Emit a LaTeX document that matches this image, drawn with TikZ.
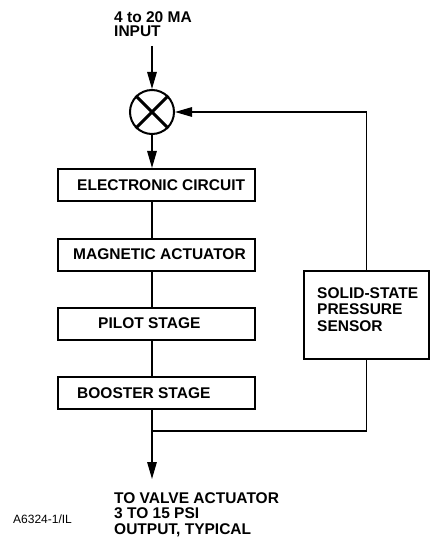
\documentclass[tikz,border=0pt]{standalone}
\usepackage{fontspec}
\setmainfont{Liberation Sans}
\usetikzlibrary{arrows.meta}
\begin{document}
\begin{tikzpicture}[x=1pt,y=-1pt,
  stagebox/.style={draw, line width=2pt, minimum width=197pt, minimum height=32pt, inner sep=0pt},
  lbl/.style={font=\bfseries\fontsize{15.5}{15.5}\selectfont, inner sep=0pt, anchor=west},
  mlbl/.style={inner sep=0pt, anchor=north west, align=left},
  conn/.style={line width=1.5pt},
  arr/.style={conn, -{Triangle[length=17pt,width=9.5pt]}},
]
\useasboundingbox (0,0) rectangle (430,537);
% summing junction
\node[circle, draw, line width=2pt, minimum size=44pt, inner sep=0pt] (sum) at (152,112) {};
\draw[line width=3pt] (sum.north east) -- (sum.south west) (sum.north west) -- (sum.south east);
% stages
\node[stagebox] (ec) at (156.5,185) {};
\node[lbl] (ect) at (77,185) {ELECTRONIC CIRCUIT};
\node[stagebox] (ma) at (156.5,254.5) {};
\node[lbl] (mat) at (73,254.5) {MAGNETIC ACTUATOR};
\node[stagebox] (ps) at (156.5,323.5) {};
\node[lbl] (pst) at (98,323.5) {PILOT STAGE};
\node[stagebox] (bs) at (156.5,393) {};
\node[lbl] (bst) at (77,393) {BOOSTER STAGE};
% sensor
\node[draw, line width=2pt, minimum width=125pt, minimum height=88pt, inner sep=0pt] (sensor) at (366.5,314.5) {};
\node[mlbl, font=\bfseries\fontsize{15.5}{16.5}\selectfont] (sensort) at (317,287) {SOLID-STATE\\PRESSURE\\SENSOR};
% texts
\node[mlbl, font=\bfseries\fontsize{15.5}{14.5}\selectfont] (intxt) at (114,11) {4 to 20 MA\\INPUT};
\node[mlbl, font=\bfseries\fontsize{15.5}{15.5}\selectfont] (outtxt) at (114,492) {TO VALVE ACTUATOR\\3 TO 15 PSI\\OUTPUT, TYPICAL};
\node[font=\fontsize{12}{12}\selectfont, anchor=base west, inner sep=0pt] (ref) at (13,523) {A6324-1/IL};
% connectors
\coordinate (instart) at (152,46);
\coordinate (outtip) at (152,479);
\coordinate (join) at (152,431);
\draw[arr] (instart) -- (sum.north);
\draw[arr] (sum.south) -- (sum.south |- ec.north);
\draw[conn] (sum |- ec.south) -- (sum |- ma.north);
\draw[conn] (sum |- ma.south) -- (sum |- ps.north);
\draw[conn] (sum |- ps.south) -- (sum |- bs.north);
\draw[arr] (sum |- bs.south) -- (outtip);
\draw[conn] (join) -| (sensor.south);
\draw[arr] (sensor.north) |- (sum.east);
\end{tikzpicture}
\end{document}
